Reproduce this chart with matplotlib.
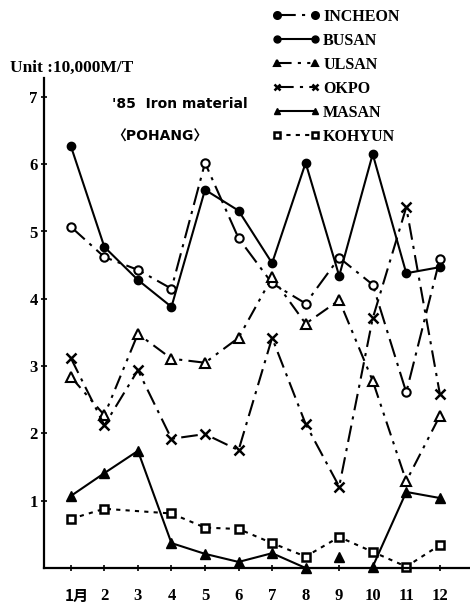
import matplotlib
matplotlib.use("Agg")
import matplotlib.pyplot as plt
import matplotlib.transforms as mtransforms
import numpy as np

months = list(range(1, 13))
month_labels = ["1月", "2", "3", "4", "5", "6", "7", "8", "9", "10", "11", "12"]
y_ticks = [1, 2, 3, 4, 5, 6, 7]

incheon = [5.07, 4.62, 4.43, 4.15, 6.02, 4.90, 4.23, 3.93, 4.61, 4.21, 2.61, 4.59]
busan = [6.27, 4.77, 4.28, 3.88, 5.62, 5.31, 4.53, 6.02, 4.34, 6.15, 4.38, 4.47]
ulsan = [2.84, 2.27, 3.48, 3.11, 3.05, 3.42, 4.32, 3.63, 3.98, 2.78, 1.29, 2.26]
okpo = [3.12, 2.12, 2.94, 1.92, 1.99, 1.75, 3.42, 2.14, 1.21, 3.71, 5.36, 2.59]
masan = [1.07, 1.41, 1.74, 0.37, 0.21, 0.09, 0.22, 0.00, 0.17, 0.02, 1.13, 1.04]
masan_gap_month = 9
kohyun_months = [1, 2, 4, 5, 6, 7, 8, 9, 10, 11, 12]
kohyun = [0.73, 0.88, 0.81, 0.60, 0.58, 0.37, 0.17, 0.46, 0.24, 0.02, 0.34]

serif = ["Liberation Serif", "Noto Sans CJK JP"]
sans = ["DejaVu Sans", "Noto Sans CJK JP"]

fig = plt.figure(figsize=(4.70, 6.03), dpi=100)
ax = fig.add_axes([44 / 470, 1 - 568 / 603, 1 - 44 / 470, (568 - 78) / 603])

lw = 1.5
ms = 6
common = dict(color="black", lw=lw, clip_on=False)
h_inch, = ax.plot(months, incheon, ls=(0, (9, 3, 1.5, 3)),
                  marker="o", ms=ms, mfc="white", mec="black", mew=1.5, label="INCHEON", **common)
h_bus, = ax.plot(months, busan, ls="-",
                 marker="o", ms=ms, mfc="black", mec="black", label="BUSAN", **common)
h_uls, = ax.plot(months, ulsan, ls=(0, (7, 3, 1.5, 3, 1.5, 3)),
                 marker="^", ms=ms + 1, mfc="white", mec="black", mew=1.5, label="ULSAN", **common)
h_okp, = ax.plot(months, okpo, ls=(0, (8, 3, 1.5, 3)),
                 marker="x", ms=ms + 1, mec="black", mew=1.8, label="OKPO", **common)

masan_line = [np.nan if m == masan_gap_month else v for m, v in zip(months, masan)]
h_mas, = ax.plot(months, masan_line, ls="-",
                 marker="^", ms=ms + 1, mfc="black", mec="black", label="MASAN", **common)
gi = months.index(masan_gap_month)
ax.plot([months[gi]], [masan[gi]], ls="none", marker="^", ms=ms + 1,
        mfc="black", mec="black", clip_on=False)

h_koh, = ax.plot(kohyun_months, kohyun, ls=(0, (2, 2.5)),
                 marker="s", ms=ms, mfc="white", mec="black", mew=1.8, label="KOHYUN", **common)

ax.set_xlim(0.2, 12.9)
ax.set_ylim(0, (568 - 78) / 67.3)
ax.set_xticks(months)
ax.set_xticklabels(month_labels)
ax.set_yticks(y_ticks)
ax.set_yticklabels([str(t) for t in y_ticks])
for lab in ax.get_xticklabels() + ax.get_yticklabels():
    lab.set_fontfamily(serif)
    lab.set_fontweight("bold")
    lab.set_fontsize(12)
ax.tick_params(axis="x", direction="inout", length=5, width=1.2, pad=12)
ax.tick_params(axis="y", direction="inout", length=5, width=1.2, pad=2)
first = ax.get_xticklabels()[0]
first.set_fontfamily(["Noto Sans CJK JP"])
first.set_fontsize(11)
first.set_transform(first.get_transform() +
                    mtransforms.ScaledTranslation(6 / 100, 0, fig.dpi_scale_trans))

for s in ["top", "right"]:
    ax.spines[s].set_visible(False)
for s in ["left", "bottom"]:
    ax.spines[s].set_linewidth(1.6)

fig.text(10 / 470, 1 - 68 / 603, "Unit :10,000M/T", fontfamily=serif,
         fontweight="bold", fontsize=12.5, va="center", ha="left")
fig.text(112 / 470, 1 - 104 / 603, "'85  Iron material", fontfamily=sans,
         fontweight="bold", fontsize=10, va="center", ha="left")
fig.text(112 / 470, 1 - 137 / 603, "〈POHANG〉", fontfamily=sans,
         fontweight="bold", fontsize=10, va="center", ha="left")

leg = ax.legend(handles=[h_inch, h_bus, h_uls, h_okp, h_mas, h_koh],
                loc="upper left", bbox_to_anchor=(272 / 470, 1 - 9 / 603),
                bbox_transform=fig.transFigure, frameon=False, numpoints=2,
                handlelength=3.0, handletextpad=0.2, labelspacing=0.5,
                borderpad=0, borderaxespad=0,
                prop={"family": serif, "weight": "bold", "size": 11.5})
leg_lines = leg.get_lines()
for line in leg_lines:
    line.set_markersize(5)
leg_lines[0].set_markerfacecolor("black")
leg_lines[2].set_markerfacecolor("black")

fig.savefig("out.png", dpi=100)
